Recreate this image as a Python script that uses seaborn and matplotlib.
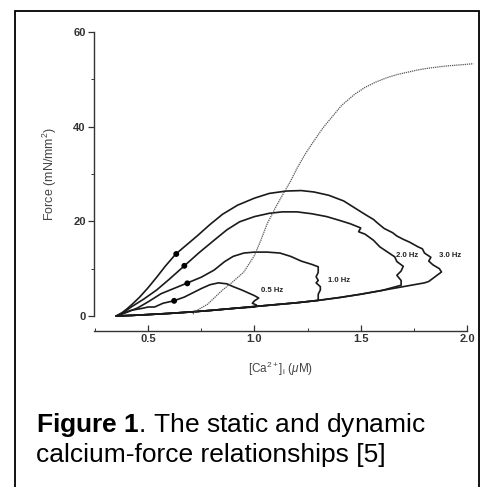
import matplotlib
matplotlib.use("Agg")
import matplotlib.pyplot as plt
import seaborn as sns
import pandas as pd
from matplotlib.patches import Rectangle
from matplotlib.ticker import MultipleLocator

# static (steady-state) calcium-force curve, dotted
static_ca = [0.71, 0.73, 0.78, 0.81, 0.85, 0.90, 0.95, 1.00, 1.03, 1.06, 1.10, 1.14, 1.17,
             1.20, 1.24, 1.28, 1.32, 1.36, 1.41, 1.47, 1.52, 1.57, 1.62, 1.67, 1.72,
             1.77, 1.81, 1.86, 1.90, 1.95, 1.98, 2.03]
static_force = [0.4, 1.2, 2.5, 3.8, 5.5, 7.3, 9.3, 12.8, 16.0, 19.5, 23.0, 26.2, 28.5,
                31.2, 34.3, 37.0, 39.6, 41.8, 44.5, 46.8, 48.3, 49.4, 50.3, 51.0, 51.5,
                52.0, 52.3, 52.6, 52.8, 53.0, 53.1, 53.3]

# dynamic loops: rising + falling branch for each stimulation frequency
loop_05_ca = [0.35, 0.42, 0.47, 0.50, 0.53, 0.57, 0.62, 0.67, 0.71, 0.75, 0.79, 0.83,
              0.87, 0.90, 0.94, 0.97, 1.00, 1.02, 1.00, 0.99, 1.01, 1.00]
loop_05_force = [0.0, 1.2, 1.6, 1.9, 1.9, 2.7, 3.2, 4.0, 4.9, 5.8, 6.6, 7.0,
                 6.8, 6.2, 5.5, 4.9, 4.3, 3.8, 3.2, 2.7, 2.3, 1.9]

loop_10_ca = [0.35, 0.40, 0.45, 0.50, 0.56, 0.62, 0.68, 0.75, 0.81, 0.86, 0.90, 0.95,
              1.00, 1.06, 1.12, 1.17, 1.22, 1.27, 1.30, 1.30, 1.29, 1.30, 1.29, 1.31,
              1.31, 1.30, 1.30]
loop_10_force = [0.0, 0.8, 1.7, 3.0, 4.7, 5.8, 6.9, 8.2, 9.7, 11.5, 12.6, 13.3,
                 13.5, 13.5, 13.3, 12.6, 11.6, 10.9, 10.4, 9.2, 8.3, 7.5, 7.0, 6.2,
                 5.5, 4.6, 3.3]

loop_20_ca = [0.35, 0.38, 0.42, 0.48, 0.54, 0.60, 0.67, 0.74, 0.81, 0.87, 0.93, 1.00,
              1.07, 1.13, 1.20, 1.27, 1.34, 1.40, 1.45, 1.50, 1.49, 1.52, 1.56, 1.59,
              1.63, 1.66, 1.67, 1.70, 1.69, 1.67, 1.69, 1.69]
loop_20_force = [0.0, 0.6, 1.9, 3.6, 5.5, 7.8, 10.6, 13.4, 16.0, 18.2, 19.9, 21.0,
                 21.7, 22.0, 22.0, 21.6, 21.0, 20.2, 19.5, 18.6, 17.8, 17.3, 16.0, 14.6,
                 13.4, 12.5, 11.5, 10.5, 9.5, 8.6, 7.5, 6.5]

loop_30_ca = [0.35, 0.38, 0.40, 0.43, 0.46, 0.50, 0.54, 0.58, 0.63, 0.68, 0.73, 0.79,
              0.85, 0.92, 1.00, 1.07, 1.15, 1.22, 1.28, 1.35, 1.42, 1.48, 1.53, 1.56,
              1.58, 1.61, 1.65, 1.67, 1.70, 1.73, 1.77, 1.79, 1.80, 1.83, 1.82, 1.84,
              1.87, 1.88, 1.85, 1.82]
loop_30_force = [0.0, 0.8, 1.5, 2.7, 4.0, 6.0, 8.2, 10.5, 13.1, 15.0, 16.9, 19.3,
                 21.5, 23.4, 24.9, 25.9, 26.4, 26.5, 26.2, 25.5, 24.3, 22.6, 21.2, 20.4,
                 19.6, 18.5, 17.6, 16.9, 16.2, 15.6, 14.6, 14.2, 13.3, 12.4, 11.6, 10.8,
                 10.0, 9.3, 8.3, 7.3]

# relaxation branch shared by all loops (right to left)
return_ca = [1.80, 1.70, 1.60, 1.50, 1.40, 1.30, 1.20, 1.10, 1.00, 0.90, 0.80, 0.70,
             0.60, 0.50, 0.42, 0.35]
return_force = [7.0, 6.2, 5.4, 4.6, 3.9, 3.3, 2.8, 2.4, 2.0, 1.6, 1.2, 0.85,
                0.55, 0.3, 0.12, 0.0]

freq_labels = ["0.5 Hz", "1.0 Hz", "2.0 Hz", "3.0 Hz"]
label_ca = [1.083, 1.40, 1.717, 1.92]
label_force = [5.3, 7.4, 12.7, 12.7]

# black markers on the rising branches
dot_ca = [0.622, 0.684, 0.670, 0.632]
dot_force = [3.2, 6.9, 10.6, 13.1]

sns.set_theme(style="ticks")
plt.rcParams['font.family'] = ['Liberation Sans', 'DejaVu Sans']
plt.rcParams['mathtext.fontset'] = 'custom'
plt.rcParams['mathtext.rm'] = 'Liberation Sans'
plt.rcParams['mathtext.it'] = 'Liberation Sans:italic'
plt.rcParams['mathtext.bf'] = 'Liberation Sans:bold'

fig = plt.figure(figsize=(4.84, 4.87), dpi=100)
ax = fig.add_axes([94 / 484, 1 - 316 / 487, 373 / 484, 284 / 487])

line_kw = dict(color="#1a1a1a", linewidth=1.2, sort=False, estimator=None, legend=False)
loops = [(loop_05_ca, loop_05_force), (loop_10_ca, loop_10_force),
         (loop_20_ca, loop_20_force), (loop_30_ca, loop_30_force)]
for xs, ys in loops:
    end = xs[-1]
    back = [(c, f) for c, f in zip(return_ca, return_force) if c < end - 0.01]
    df = pd.DataFrame({"ca": xs + [c for c, _ in back], "force": ys + [f for _, f in back]})
    sns.lineplot(data=df, x="ca", y="force", ax=ax, **line_kw)

static_df = pd.DataFrame({"ca": static_ca, "force": static_force})
sns.lineplot(data=static_df, x="ca", y="force", ax=ax, color="#555555",
             linewidth=0.9, linestyle=(0, (1, 0.7)), sort=False, estimator=None)
for ln in ax.lines:
    ln.set_clip_on(False)

sns.scatterplot(x=dot_ca, y=dot_force, ax=ax, color="black", s=18,
                edgecolor="none", zorder=5, clip_on=False)

for lab, x, y in zip(freq_labels, label_ca, label_force):
    ax.text(x, y, lab, fontsize=5.6, fontweight="bold", color="#222222",
            ha="center", va="center")

ax.set_xlim(0.245, 2.0)
ax.set_ylim(0, 60)
sns.despine(ax=ax)
ax.spines['bottom'].set_position(('outward', 11))
for side in ['left', 'bottom']:
    ax.spines[side].set_linewidth(1.0)
    ax.spines[side].set_color("#333333")

ax.set_xticks([0.5, 1.0, 1.5, 2.0])
ax.set_xticklabels(["0.5", "1.0", "1.5", "2.0"])
ax.xaxis.set_minor_locator(MultipleLocator(0.25))
ax.set_yticks([0, 20, 40, 60])
ax.yaxis.set_minor_locator(MultipleLocator(10))
ax.tick_params(axis='x', which='major', direction='in', length=4, width=0.9,
               labelsize=8, pad=2, colors="#333333")
ax.tick_params(axis='x', which='minor', direction='in', length=2, width=0.7, colors="#333333")
ax.tick_params(axis='y', which='major', direction='out', length=4, width=0.9,
               labelsize=8, pad=2, colors="#333333")
ax.tick_params(axis='y', which='minor', direction='out', length=2, width=0.7, colors="#333333")
for t in ax.get_xticklabels() + ax.get_yticklabels():
    t.set_fontweight("bold")

ax.set_xlabel(r"[Ca$^{2+}$]$_{\rm i}$ ($\mu$M)", fontsize=8.5, color="#444444", labelpad=11)
ax.set_ylabel("Force (mN/mm$^{2}$)", fontsize=9, color="#444444", labelpad=10)

# caption
fig.text(36 / 484, 1 - 425 / 487, r"$\bf{Figure\ 1}$. The static and dynamic",
         fontsize=19, ha="left", va="center", color="black")
fig.text(36 / 484, 1 - 455 / 487, "calcium-force relationships [5]",
         fontsize=19, ha="left", va="center", color="black")

# outer frame
fig.add_artist(Rectangle((15 / 484, -0.05), 464 / 484, 1.05 - 11 / 487,
                         transform=fig.transFigure, fill=False,
                         edgecolor="black", linewidth=1.3))

fig.savefig("out.png", dpi=100)
